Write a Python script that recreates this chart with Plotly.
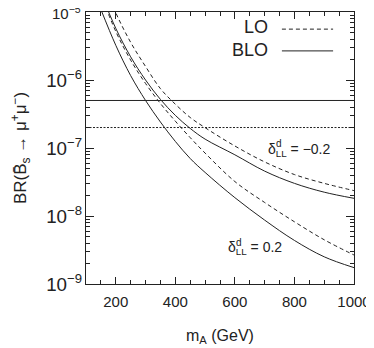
import plotly.graph_objects as go

# ---- data ----
m_A = [150, 200, 250, 300, 350, 400, 450, 500, 600, 700, 800, 900, 1000]

# delta_LL^d = 0.2
br_blo_pos = [1.09e-5, 3.24e-6, 1.16e-6, 5.0e-7, 2.41e-7, 1.25e-7, 7.0e-8, 4.37e-8, 1.86e-8, 8.7e-9, 4.37e-9, 2.51e-9, 1.74e-9]
br_lo_pos = [1.80e-5, 5.18e-6, 1.96e-6, 8.89e-7, 4.51e-7, 2.48e-7, 1.42e-7, 8.41e-8, 3.21e-8, 1.58e-8, 8.22e-9, 4.47e-9, 2.67e-9]
# delta_LL^d = -0.2
br_blo_neg = [1.91e-5, 5.75e-6, 2.19e-6, 1.0e-6, 5.18e-7, 3.02e-7, 1.94e-7, 1.35e-7, 7.94e-8, 4.57e-8, 3.02e-8, 2.24e-8, 1.82e-8]
br_lo_neg = [3.57e-5, 9.77e-6, 3.58e-6, 1.58e-6, 7.46e-7, 4.41e-7, 2.81e-7, 1.99e-7, 1.07e-7, 6.24e-8, 4.07e-8, 3.02e-8, 2.36e-8]

D0_LIMIT = 5e-7
CDF_LIMIT = 2e-7

x_ticks = [200, 400, 600, 800, 1000]

INK = "#222222"
FONT = "Liberation Sans, Arial, sans-serif"

fig = go.Figure()

def add_curve(y, dash):
    fig.add_trace(go.Scatter(
        x=m_A, y=y, mode="lines", line_shape="spline",
        line=dict(color=INK, width=1, dash=dash),
        showlegend=False, hoverinfo="skip",
    ))

add_curve(br_blo_pos, "solid")
add_curve(br_lo_pos, "4px,3px")
add_curve(br_blo_neg, "solid")
add_curve(br_lo_neg, "4px,3px")

fig.add_hline(y=D0_LIMIT, line=dict(color=INK, width=1))
fig.add_hline(y=CDF_LIMIT, line=dict(color=INK, width=1, dash="2px,1.5px"))

# legend (drawn manually: text left, line sample right)
fig.add_annotation(x=0.687, y=0.945, xref="paper", yref="paper", text="LO",
                   showarrow=False, xanchor="right", yanchor="middle",
                   font=dict(size=18, color=INK, family=FONT))
fig.add_annotation(x=0.687, y=0.862, xref="paper", yref="paper", text="BLO",
                   showarrow=False, xanchor="right", yanchor="middle",
                   font=dict(size=18, color=INK, family=FONT))
fig.add_shape(type="line", xref="paper", yref="paper", x0=0.731, x1=0.922, y0=0.937, y1=0.937,
              line=dict(color=INK, width=1, dash="4px,3px"))
fig.add_shape(type="line", xref="paper", yref="paper", x0=0.731, x1=0.922, y0=0.857, y1=0.857,
              line=dict(color=INK, width=1))

# labels
fig.add_annotation(x=880, y=D0_LIMIT, text="DØ", showarrow=False, yanchor="bottom", yshift=3,
                   xanchor="center", font=dict(size=13, color=INK, family=FONT))
fig.add_annotation(x=880, y=CDF_LIMIT, text="CDF", showarrow=False, yanchor="bottom", yshift=3,
                   xanchor="center", font=dict(size=13, color=INK, family=FONT))

def delta_label(px, py, value):
    # delta with subscript LL and the superscript d stacked above it
    fig.add_annotation(x=px, y=py, xref="paper", yref="paper", xanchor="left", yanchor="middle",
                       text="δ<sub>LL</sub> = " + value, showarrow=False,
                       font=dict(size=14, color=INK, family=FONT))
    fig.add_annotation(x=px, y=py, xref="paper", yref="paper", xanchor="left", yanchor="middle",
                       xshift=8, yshift=6, text="d", showarrow=False,
                       font=dict(size=10, color=INK, family=FONT))

delta_label(0.672, 0.493, "−0.2")
delta_label(0.524, 0.132, "0.2")

# top decade label (plotly hides tick labels that spill past the page top)
fig.add_annotation(x=0, y=1, xref="paper", yref="paper", xanchor="right", yanchor="middle",
                   xshift=-3, text="10<sup>−5</sup>", showarrow=False,
                   font=dict(size=15, color=INK, family=FONT))

fig.update_xaxes(
    range=[100, 1000], tickmode="array", tickvals=x_ticks,
    ticks="inside", ticklen=7, tickcolor=INK, tickwidth=1, ticklabelstandoff=4,
    minor=dict(dtick=50, tick0=0, ticks="inside", ticklen=4, tickcolor=INK, showgrid=False),
    showline=True, linecolor=INK, linewidth=1, mirror="allticks",
    showgrid=False, zeroline=False,
    tickfont=dict(size=15, color=INK, family=FONT),
    title=dict(text="m<sub>A</sub> (GeV)", font=dict(size=16, color=INK, family=FONT), standoff=20),
)
fig.update_yaxes(
    type="log", range=[-9, -5], dtick=1, tick0=0,
    exponentformat="power", showexponent="all",
    ticks="inside", ticklen=8, tickcolor=INK, tickwidth=1,
    minor=dict(dtick="D1", ticks="inside", ticklen=4, tickcolor=INK, showgrid=False),
    showline=True, linecolor=INK, linewidth=1, mirror="allticks",
    showgrid=False, zeroline=False,
    tickfont=dict(size=15, color=INK, family=FONT),
    title=dict(text="BR(B̄<sub>s</sub> → μ<sup>+</sup>μ<sup>−</sup>)",
               font=dict(size=17, color=INK, family=FONT), standoff=19),
)

fig.update_layout(
    width=366, height=340,
    margin=dict(l=78, r=20, t=4, b=64),
    plot_bgcolor="white", paper_bgcolor="white",
    showlegend=False,
)

fig.write_html("out.html")
